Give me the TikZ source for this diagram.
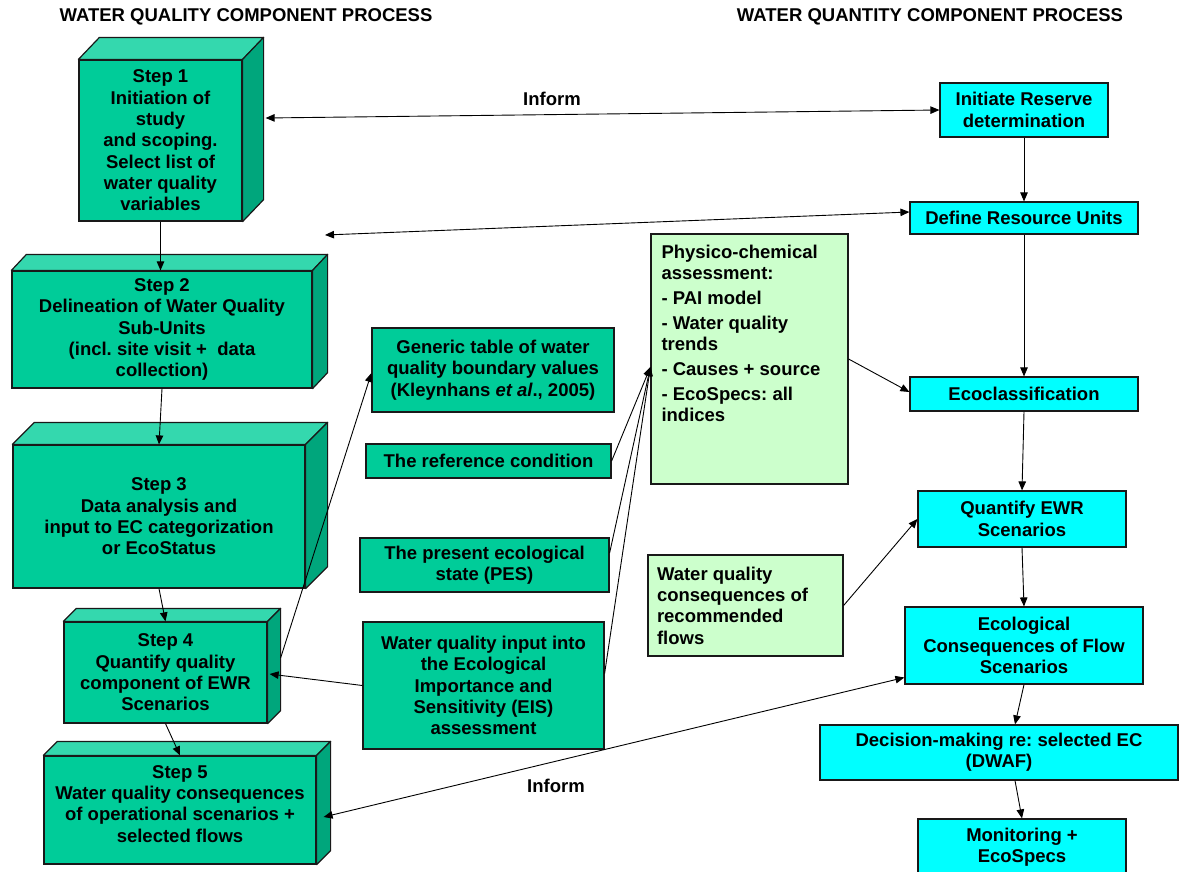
\documentclass[tikz,border=0pt]{standalone}
\usepackage{fontspec}
\setmainfont{Liberation Sans}
\usetikzlibrary{arrows.meta,calc}
\frenchspacing

\definecolor{stepfront}{RGB}{0,204,153}
\definecolor{steptop}{RGB}{52,216,174}
\definecolor{stepside}{RGB}{0,166,124}
\definecolor{qtycyan}{RGB}{0,255,255}
\definecolor{paleg}{RGB}{204,255,204}
\definecolor{edge}{RGB}{25,25,25}

\tikzset{
  txt/.style={font=\fontsize{18.5}{21.3}\selectfont\bfseries, text=black},
  box/.style={txt, draw=edge, line width=1.2pt, inner sep=0pt, align=center},
  front/.style={box, fill=stepfront},
  quant/.style={box, fill=qtycyan},
  note/.style={box, fill=paleg},
  topface/.style={draw=edge, line width=1.2pt, fill=steptop, line join=round},
  sideface/.style={draw=edge, line width=1.2pt, fill=stepside, line join=round},
  tip/.tip={Triangle[length=9pt,width=7.5pt]},
  link/.style={draw=black, line width=0.9pt, -tip},
  bilink/.style={draw=black, line width=0.9pt, tip-tip},
  lbl/.style={txt},
}

% top and right faces of a box drawn as a cuboid: #1 front node, #2 depth x, #3 depth y
\newcommand\cuboidfaces[3]{%
  \filldraw[topface] (#1.north west) -- ++(#2,-#3) -- ($(#1.north east)+(#2,-#3)$) -- (#1.north east) -- cycle;
  \filldraw[sideface] (#1.north east) -- ++(#2,-#3) -- ($(#1.south east)+(#2,-#3)$) -- (#1.south east) -- cycle;}

\begin{document}
\begin{tikzpicture}[x=1pt,y=-1pt]
\useasboundingbox (0,0) rectangle (1182,871);
\clip (0,0) rectangle (1182,871);

% column headings
\node[lbl] (qualhead) at (246,17) {WATER QUALITY COMPONENT PROCESS};
\node[lbl] (quanthead) at (930,17) {WATER QUANTITY COMPONENT PROCESS};

% water quality steps
\node[front, minimum width=163pt, minimum height=161pt] (s1) at (160.5,140.5)
  {Step 1\\Initiation of\\study\\and scoping.\\Select list of\\water quality\\variables};
\cuboidfaces{s1}{21}{22}

\node[front, minimum width=300pt, minimum height=117pt] (s2) at (162,329.5)
  {Step 2\\Delineation of Water Quality\\Sub-Units\\(incl. site visit +\ \ data\\collection)};
\cuboidfaces{s2}{15}{16}

\node[front, minimum width=292pt, minimum height=143pt] (s3) at (159,516.5)
  {Step 3\\Data analysis and\\input to EC categorization\\or EcoStatus};
\cuboidfaces{s3}{22}{22}

\node[front, minimum width=203pt, minimum height=101pt] (s4) at (165.5,672.5)
  {Step 4\\Quantify quality\\component of EWR\\Scenarios};
\cuboidfaces{s4}{13}{13}

\node[front, minimum width=272pt, minimum height=108pt] (s5) at (180,810)
  {Step 5\\Water quality consequences\\of operational scenarios +\\selected flows\\[-9pt]\mbox{}};
\cuboidfaces{s5}{14}{14}

% inputs to the assessment
\node[front, minimum width=242pt, minimum height=84pt] (gen) at (493,370)
  {Generic table of water\\quality boundary values\\(Kleynhans \textit{et al}., 2005)};
\node[front, minimum width=245pt, minimum height=34pt] (ref) at (488.5,461)
  {The reference condition};
\node[front, minimum width=249pt, minimum height=54pt] (pes) at (484.5,565)
  {The present ecological\\state (PES)};
\node[front, minimum width=241pt, minimum height=127pt] (eis) at (483.5,685.5)
  {Water quality input into\\the Ecological\\Importance and\\Sensitivity (EIS)\\assessment};

\node[note, minimum width=197pt, minimum height=250pt] (phys) at (749.5,359)
  {\parbox[c][228pt][t]{176pt}{\raggedright Physico-chemical\\assessment:\\[3.5pt]- PAI model\\[3.5pt]- Water quality\\trends\\[3.5pt]- Causes + source\\[3.5pt]- EcoSpecs: all\\indices}};
\node[note, minimum width=195pt, minimum height=101pt] (wqc) at (745.5,605.5)
  {\parbox{177pt}{\raggedright Water quality\\consequences of\\recommended\\flows}};

% water quantity steps
\node[quant, minimum width=168pt, minimum height=54pt] (init) at (1024,110)
  {Initiate Reserve\\determination};
\node[quant, minimum width=228pt, minimum height=32pt] (def) at (1024,218)
  {Define Resource Units};
\node[quant, minimum width=228pt, minimum height=34pt] (eco) at (1024,394)
  {Ecoclassification};
\node[quant, minimum width=208pt, minimum height=56pt] (qewr) at (1022,519)
  {Quantify EWR\\Scenarios};
\node[quant, minimum width=238pt, minimum height=77pt] (cons) at (1024,645.5)
  {Ecological\\Consequences of Flow\\Scenarios};
\node[quant, minimum width=358pt, minimum height=55pt] (dec) at (999,752.5)
  {Decision-making re: selected EC\\(DWAF)};
\node[quant, minimum width=208pt, minimum height=56pt] (mon) at (1022,847)
  {Monitoring +\\EcoSpecs};

% quality chain
\draw[link] (s1.south) -- (s1.south |- s2.north);
\draw[link] (s2.south) -- (s3.north);
\draw[link] (s3.south) -- (s4.north);
\draw[link] (s4.south) -- (s5.north);

% quantity chain
\draw[link] (init.south) -- (init.south |- def.north);
\draw[link] (def.south) -- (def.south |- eco.north);
\draw[link] (eco.south) -- (qewr.north);
\draw[link] (qewr.south) -- (cons.north);
\draw[link] (cons.south) -- ([xshift=16pt]dec.north);
\draw[link] ([xshift=16pt]dec.south) -- (mon.north);

% links between the two processes
\draw[bilink] ([shift={(23,-22.5)}]s1.east) -- (init.west);
\node[lbl] (inform1) at (552,99) {Inform};
\coordinate (loose) at (325,235);
\draw[bilink] (loose) -- ([yshift=6pt]def.west);
\draw[bilink] ([shift={(7,7)}]s5.east) -- ([yshift=-32pt]cons.west);
\node[lbl] (inform2) at (556,786) {Inform};

% inputs
\draw[link] ([shift={(13,-14.5)}]s4.east) -- ([yshift=-3pt]gen.west);
\draw[link] (eis.west) -- ([shift={(2,1.5)}]s4.east);
\draw[link] (ref.east) -- ([yshift=-8pt]phys.west);
\draw[link] ([yshift=12pt]pes.east) -- ([yshift=-8pt]phys.west);
\draw[link] ([yshift=12pt]eis.east) -- ([yshift=-8pt]phys.west);
\draw[link] (phys.east) -- ([yshift=2pt]eco.west);
\draw[link] (wqc.east) -- (qewr.west);

\end{tikzpicture}
\end{document}
